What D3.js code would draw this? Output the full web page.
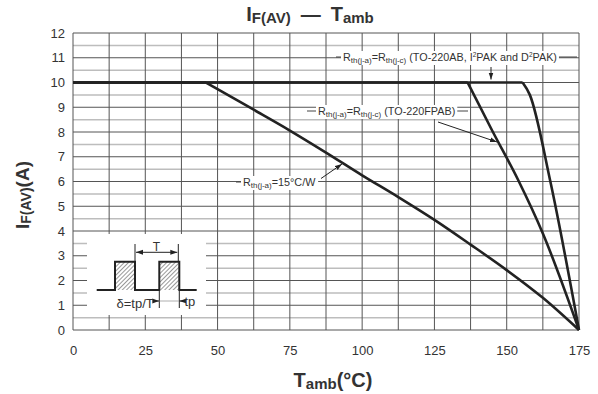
<!DOCTYPE html>
<html>
<head>
<meta charset="utf-8">
<script src="https://cdn.jsdelivr.net/npm/d3@7"></script>
<style>
  body { margin: 0; background: #fff; }
  svg { display: block; font-family: "Liberation Sans", Arial, sans-serif; }
</style>
</head>
<body>
<svg id="chart" width="598" height="394"></svg>
<script>
// ---- data ----
const xTicks = [0, 25, 50, 75, 100, 125, 150, 175];
const yTicks = [0, 1, 2, 3, 4, 5, 6, 7, 8, 9, 10, 11, 12];
const curve15 = [[0,10],[46,10],[50,9.73],[62.5,8.9],[75,8.06],[87.5,7.17],[100,6.25],[112.5,5.37],[125,4.45],[137.5,3.45],[150,2.42],[162.5,1.3],[175,0]];
const curveFPAB = [[0,10],[136.5,10],[145,8.05],[154,6.05],[162.5,3.9],[175,0]];
const curveAB = [[0,10],[155.5,10],[158,9.5],[165,6.05],[175,0]];

const svg = d3.select("#chart");
const x = d3.scaleLinear().domain([0, 175]).range([73, 579]);
const y = d3.scaleLinear().domain([0, 12]).range([330, 33]);

// defs: hatch + arrow markers
const defs = svg.append("defs");
const pat = defs.append("pattern").attr("id","hatch").attr("patternUnits","userSpaceOnUse")
  .attr("width",3).attr("height",3).attr("patternTransform","rotate(45)");
pat.append("rect").attr("width",3).attr("height",3).attr("fill","#fff");
pat.append("line").attr("x1",0).attr("y1",0).attr("x2",0).attr("y2",3).attr("stroke","#444").attr("stroke-width",1.1);
defs.append("marker").attr("id","arr").attr("viewBox","0 0 10 10").attr("refX",10).attr("refY",5)
  .attr("markerWidth",7).attr("markerHeight",7).attr("orient","auto-start-reverse")
  .append("path").attr("d","M0,1.5 L10,5 L0,8.5 Z").attr("fill","#222");

// grid
const g = svg.append("g");
const halfs = d3.range(0.5, 12, 1);
g.selectAll(".hh").data(halfs).join("line")
  .attr("x1", x(0)).attr("x2", x(175)).attr("y1", d => y(d)).attr("y2", d => y(d))
  .attr("stroke", "#bdbdbd").attr("stroke-width", 1.5);
g.selectAll(".hi").data(yTicks).join("line")
  .attr("x1", x(0)).attr("x2", x(175)).attr("y1", d => y(d)).attr("y2", d => y(d))
  .attr("stroke", "#555").attr("stroke-width", 1);
const vx = d3.range(0, 175.1, 12.5);
g.selectAll(".v").data(vx).join("line")
  .attr("x1", d => x(d)).attr("x2", d => x(d)).attr("y1", y(0)).attr("y2", y(12))
  .attr("stroke", "#555").attr("stroke-width", 1);

// axes labels
const ax = svg.append("g").attr("transform", `translate(0,${y(0)})`)
  .call(d3.axisBottom(x).tickValues(xTicks).tickSize(0).tickPadding(16));
ax.select(".domain").remove();
ax.selectAll("text").attr("font-size", 13).attr("fill", "#333").attr("font-family", "Liberation Sans, Arial, sans-serif");
const ay = svg.append("g").attr("transform", `translate(${x(0)},0)`)
  .call(d3.axisLeft(y).tickValues(yTicks).tickSize(0).tickPadding(8));
ay.select(".domain").remove();
ay.selectAll("text").attr("font-size", 13).attr("fill", "#333").attr("font-family", "Liberation Sans, Arial, sans-serif");

// inset white box
svg.append("rect").attr("x", 87).attr("y", 234).attr("width", 119).attr("height", 81).attr("fill", "#fff");

// curves: flat part straight, falling part smooth
const lineStraight = d3.line().x(d => x(d[0])).y(d => y(d[1]));
const lineSmooth = d3.line().x(d => x(d[0])).y(d => y(d[1])).curve(d3.curveMonotoneX);
[curve15, curveFPAB, curveAB].forEach(c => {
  svg.append("path").attr("d", lineStraight(c.slice(0, 2))).attr("fill", "none")
    .attr("stroke", "#222").attr("stroke-width", 2.6);
  svg.append("path").attr("d", lineSmooth(c.slice(1))).attr("fill", "none")
    .attr("stroke", "#222").attr("stroke-width", 2.6).attr("stroke-linejoin", "round");
});

// annotation helpers
const annot = svg.append("g");
function leader(x1, x2, yy) {
  annot.append("line").attr("x1", x1).attr("x2", x2).attr("y1", yy).attr("y2", yy).attr("stroke", "#444").attr("stroke-width", 1);
}
function arrow(x1, y1, x2, y2) {
  annot.append("line").attr("x1", x1).attr("y1", y1).attr("x2", x2).attr("y2", y2)
    .attr("stroke", "#222").attr("stroke-width", 1).attr("marker-end", "url(#arr)");
}
function label(xs, ys, parts) {
  const bg = annot.append("rect").attr("fill", "#fff");
  const t = annot.append("text").attr("x", xs).attr("y", ys).attr("font-size", 10.8).attr("fill", "#333");
  let shift = 0;
  parts.forEach(p => {
    const want = p.sub ? 2 : p.sup ? -4 : 0;
    t.append("tspan").attr("font-size", p.sub ? 8 : p.sup ? 6.5 : 10.8).attr("dy", want - shift).text(p.t);
    shift = want;
  });
  const b = t.node().getBBox();
  bg.attr("x", b.x - 2).attr("y", b.y).attr("width", b.width + 4).attr("height", b.height);
}

// label 1: TO-220AB
leader(336, 577, 57);
label(343, 61, [{t:"R"},{t:"th(j-a)",sub:1},{t:"=R"},{t:"th(j-c)",sub:1},{t:" (TO-220AB, I"},{t:"2",sup:1},{t:"PAK and D"},{t:"2",sup:1},{t:"PAK)"}]);
arrow(491, 67, 491, 79.5);

// label 2: TO-220FPAB
leader(307, 468, 111);
label(318, 115, [{t:"R"},{t:"th(j-a)",sub:1},{t:"=R"},{t:"th(j-c)",sub:1},{t:" (TO-220FPAB)"}]);
arrow(438, 122, 497, 142);

// label 3: 15°C/W
leader(236, 318, 182);
label(243, 186, [{t:"R"},{t:"th(j-a)",sub:1},{t:"=15°C/W"}]);
arrow(321, 178.5, 342, 164);

// inset drawing
const ins = svg.append("g");
ins.append("rect").attr("x", 115).attr("y", 261.7).attr("width", 20).attr("height", 28.3).attr("fill", "url(#hatch)");
ins.append("rect").attr("x", 159.3).attr("y", 261.7).attr("width", 20).attr("height", 28.3).attr("fill", "url(#hatch)");
ins.append("path").attr("d", "M96.7,290 H115 V261.7 H135 V290 H159.3 V261.7 H179.3 V290 H196.7")
  .attr("fill", "none").attr("stroke", "#222").attr("stroke-width", 2);
ins.append("line").attr("x1", 135).attr("x2", 135).attr("y1", 244).attr("y2", 262).attr("stroke", "#222").attr("stroke-width", 1);
ins.append("line").attr("x1", 178.3).attr("x2", 178.3).attr("y1", 244).attr("y2", 262).attr("stroke", "#222").attr("stroke-width", 1);
ins.append("line").attr("x1", 136).attr("x2", 177.3).attr("y1", 252.3).attr("y2", 252.3).attr("stroke", "#222").attr("stroke-width", 1)
  .attr("marker-start", "url(#arr)").attr("marker-end", "url(#arr)");
ins.append("text").attr("x", 156.5).attr("y", 251).attr("text-anchor", "middle").attr("font-size", 12).attr("fill", "#333").text("T");
ins.append("line").attr("x1", 159.3).attr("x2", 159.3).attr("y1", 291).attr("y2", 308).attr("stroke", "#222").attr("stroke-width", 1);
ins.append("line").attr("x1", 179.3).attr("x2", 179.3).attr("y1", 291).attr("y2", 308).attr("stroke", "#222").attr("stroke-width", 1);
ins.append("line").attr("x1", 159.3).attr("x2", 179.3).attr("y1", 301).attr("y2", 301).attr("stroke", "#999").attr("stroke-width", 0.8);
ins.append("line").attr("x1", 154).attr("x2", 159.3).attr("y1", 301).attr("y2", 301).attr("stroke", "#222").attr("stroke-width", 1).attr("marker-end", "url(#arr)");
ins.append("line").attr("x1", 184).attr("x2", 179.3).attr("y1", 301).attr("y2", 301).attr("stroke", "#222").attr("stroke-width", 1).attr("marker-end", "url(#arr)");
ins.append("text").attr("x", 184.5).attr("y", 306).attr("font-size", 13).attr("fill", "#333").text("tp");
ins.append("text").attr("x", 116.5).attr("y", 308).attr("font-size", 13).attr("fill", "#333").text("δ=tp/T");

// title
const tt = svg.append("text").attr("x", 310).attr("y", 21).attr("text-anchor", "middle")
  .attr("font-weight", "bold").attr("font-size", 20).attr("fill", "#333");
tt.append("tspan").text("I");
tt.append("tspan").attr("font-size", 15).attr("dy", 2).text("F(AV)");
tt.append("tspan").attr("dy", -2).text("\u2002\u2014\u2002T");
tt.append("tspan").attr("font-size", 15).attr("dy", 2).text("amb");

// x axis title
const xt = svg.append("text").attr("x", 333).attr("y", 387).attr("text-anchor", "middle")
  .attr("font-weight", "bold").attr("font-size", 20).attr("fill", "#333");
xt.append("tspan").text("T");
xt.append("tspan").attr("font-size", 15).attr("dy", 2).text("amb");
xt.append("tspan").attr("dy", -2).text("(°C)");

// y axis title
const yt = svg.append("text").attr("transform", "translate(29,195) rotate(-90)").attr("text-anchor", "middle")
  .attr("font-weight", "bold").attr("font-size", 19).attr("fill", "#333");
yt.append("tspan").text("I");
yt.append("tspan").attr("font-size", 14).attr("dy", 2).text("F(AV)");
yt.append("tspan").attr("dy", -2).text("(A)");
</script>
</body>
</html>
